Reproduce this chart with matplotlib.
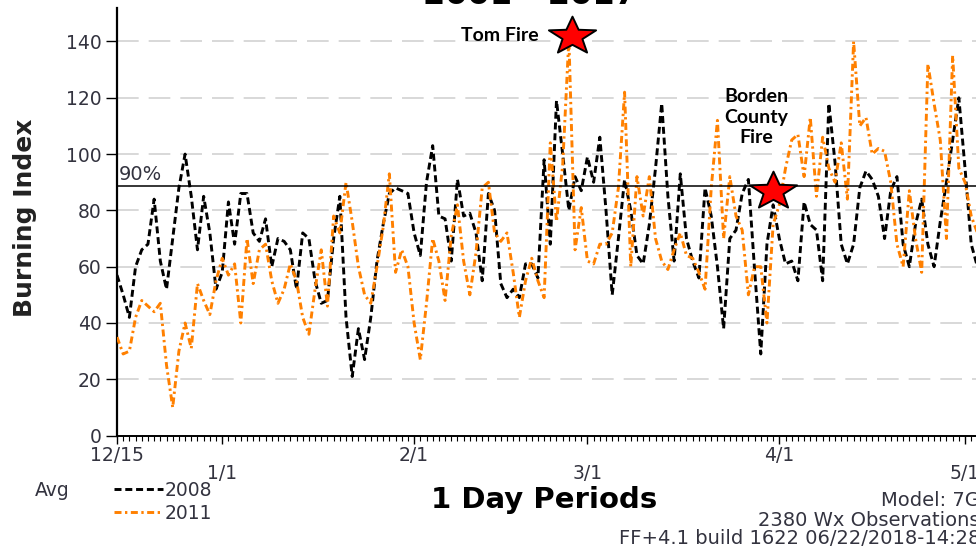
import numpy as np
import matplotlib
matplotlib.use("Agg")
import matplotlib.pyplot as plt
from matplotlib.path import Path

# ---------------- data ----------------
days = list(range(140))  # days since 12/15

bi_2008 = [57, 50, 42, 60, 66, 68, 84, 62, 52, 70,
           88, 100, 85, 66, 85, 72, 52, 58, 83, 68,
           86, 86, 72, 69, 77, 60, 70, 69, 66, 52,
           72, 70, 55, 47, 48, 70, 85, 42, 21, 38,
           27, 42, 62, 75, 86, 88, 87, 86, 72, 64,
           90, 103, 78, 77, 62, 91, 78, 79, 72, 55,
           86, 80, 54, 49, 52, 49, 61, 61, 56, 98,
           68, 119, 100, 80, 92, 87, 99, 90, 106, 80,
           50, 70, 91, 80, 64, 61, 75, 95, 118, 85,
           62, 93, 70, 62, 56, 88, 78, 60, 38, 70,
           73, 86, 91, 59, 29, 68, 82, 70, 61, 62,
           55, 83, 75, 73, 55, 118, 97, 68, 61, 68,
           88, 94, 91, 85, 70, 87, 92, 68, 60, 75,
           84, 68, 60, 76, 90, 105, 120, 95, 68, 60]

bi_2011 = [35, 29, 30, 42, 48, 46, 44, 47, 25, 10,
           30, 40, 31, 54, 48, 43, 55, 63, 57, 61,
           40, 70, 54, 66, 68, 55, 47, 52, 61, 55,
           42, 36, 52, 66, 46, 78, 72, 90, 76, 60,
           50, 47, 60, 74, 93, 58, 66, 60, 40, 27,
           47, 70, 62, 48, 71, 82, 62, 50, 65, 88,
           90, 72, 69, 72, 58, 42, 55, 63, 55, 49,
           104, 76, 96, 141, 66, 81, 62, 61, 68, 68,
           72, 88, 122, 60, 92, 78, 92, 70, 62, 59,
           66, 72, 64, 63, 58, 52, 88, 112, 70, 92,
           78, 73, 50, 60, 60, 40, 75, 82, 95, 105,
           107, 92, 113, 85, 106, 95, 90, 104, 84, 140,
           110, 113, 100, 102, 101, 90, 68, 60, 87, 70,
           58, 132, 118, 105, 70, 135, 95, 90, 78, 72]

series_labels = ["2008", "2011"]
month_days = [0, 17, 48, 76, 107, 137]
month_labels = ["12/15", "1/1", "2/1", "3/1", "4/1", "5/1"]
y_ticks = [0, 20, 40, 60, 80, 100, 120, 140]
p90_value = 88.7
p90_label = "90%"

fire_names = ["Tom Fire", "Borden\nCounty\nFire"]
fire_days = [73.5, 106]
fire_values = [142, 87]

# ---------------- figure ----------------
W, H = 976, 548
fig = plt.figure(figsize=(W / 100, H / 100), dpi=100)
plt.rcParams["font.family"] = ["DejaVu Sans"]

x0_px, y0_px, ytop_px, xright_px = 117, 435.6, 8.0, 995
px_per_day, px_per_unit = 6.19, 2.815
ax = fig.add_axes([x0_px / W, 1 - y0_px / H, (xright_px - x0_px) / W, (y0_px - ytop_px) / H])
ax.set_xlim(0, (xright_px - x0_px) / px_per_day)
ax.set_ylim(0, (y0_px - ytop_px) / px_per_unit)

txt_col = "#33333f"

# grid
ax.set_axisbelow(True)
ax.yaxis.grid(True, color="#d2d2d2", lw=1.2, ls=(0, (13, 6)))
ax.xaxis.grid(False)

# series
l08, = ax.plot(days, bi_2008, color="black", lw=2.1, ls=(0, (2.4, 1.3)),
               label=series_labels[0], zorder=3)
l11, = ax.plot(days, bi_2011, color="#ff8000", lw=2.1, ls=(0, (2.4, 1.2, 0.8, 1.2)),
               label=series_labels[1], zorder=3)

# 90 % line
ax.axhline(p90_value, color="black", lw=1.1, zorder=4)
ax.text(0.3, p90_value + 0.8, p90_label, ha="left", va="bottom",
        fontsize=14, color=txt_col)

# stars (horizontally stretched star marker)
ang = np.pi / 2 + np.arange(10) * np.pi / 5
rad = np.where(np.arange(10) % 2 == 0, 1.0, 0.42)
verts = np.column_stack([1.25 * rad * np.cos(ang), rad * np.sin(ang)])
verts = np.vstack([verts, verts[:1]])
star = Path(verts, closed=True)
ax.plot(fire_days, fire_values, ls="none", marker=star, ms=34,
        mfc="#ff0000", mec="black", mew=1.4, zorder=6, clip_on=False)

ax.annotate(fire_names[0], (fire_days[0], fire_values[0]), xytext=(-24, 0),
            textcoords="offset points", ha="right", va="center",
            fontsize=14, fontweight="bold", family="Lato", color="black",
            annotation_clip=False)
ax.annotate(fire_names[1], (fire_days[1], fire_values[1]), xytext=(-12, 53),
            textcoords="offset points", ha="center", va="center",
            fontsize=14, fontweight="bold", family="Lato", color="black",
            linespacing=1.25)

# spines
for s in ["top", "right"]:
    ax.spines[s].set_visible(False)
ax.spines["left"].set_linewidth(1.6)
ax.spines["bottom"].set_linewidth(1.4)

# y ticks
ax.set_yticks(y_ticks)
ax.set_yticklabels([str(v) for v in y_ticks])
ax.tick_params(axis="y", direction="out", length=8, width=1.0, pad=3,
               labelsize=13.5, labelcolor=txt_col)

# x ticks: months (alternating rows) + daily minor ticks
ax.set_xticks(month_days)
ax.set_xticklabels([lab if i % 2 == 0 else "\n" + lab for i, lab in enumerate(month_labels)])
ax.set_xticks(np.arange(0, 142), minor=True)
ax.tick_params(axis="x", which="major", direction="out", length=6, width=1.0,
               pad=1.5, labelsize=13.5, labelcolor=txt_col)
ax.tick_params(axis="x", which="minor", direction="out", length=3.5, width=0.8)
for t in ax.get_xticklabels():
    t.set_linespacing(0.9)

# axis labels
fig.text(25 / W, 1 - 218 / H, "Burning Index", rotation=90, ha="center", va="center",
         fontsize=18, fontweight="bold", color="#222222")
fig.text(544 / W, 1 - 500 / H, "1 Day Periods", ha="center", va="center",
         fontsize=21, fontweight="bold", color="black")
fig.text(530 / W, 1 - 4 / H, "2001 - 2017", ha="center", va="baseline",
         fontsize=23, fontweight="bold", color="black")

# legend
fig.text(35 / W, 1 - 491 / H, "Avg", ha="left", va="center", fontsize=13.5, color=txt_col)
fig.legend(handles=[l08, l11], labels=series_labels, loc="upper left",
           bbox_to_anchor=(114 / W, 1 - 481 / H), frameon=False, fontsize=13.5,
           handlelength=2.6, handletextpad=0.1, labelspacing=0.2,
           borderpad=0, borderaxespad=0, labelcolor=txt_col)

# model info (right side, partially cut)
fig.text(980 / W, 1 - 500 / H, "Model: 7G", ha="right", va="center", fontsize=14, color=txt_col)
fig.text(980 / W, 1 - 520 / H, "2380 Wx Observations", ha="right", va="center",
         fontsize=14, color=txt_col)
fig.text(980 / W, 1 - 539 / H, "FF+4.1 build 1622 06/22/2018-14:28", ha="right",
         va="center", fontsize=14, color=txt_col)

fig.savefig("out.png", dpi=100)
